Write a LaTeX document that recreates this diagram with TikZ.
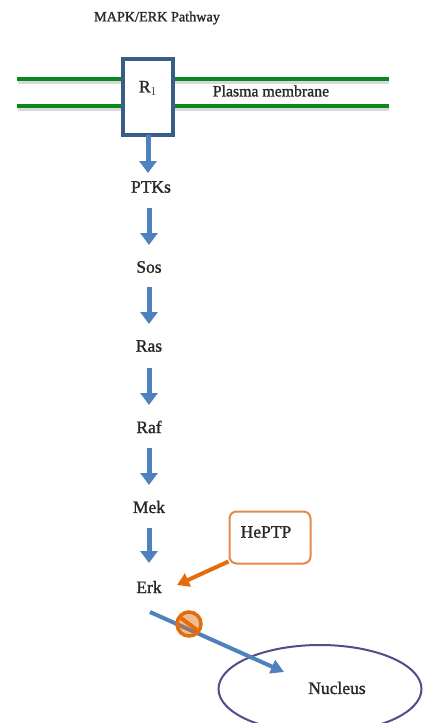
\documentclass[tikz,border=0pt]{standalone}
\usepackage{fontspec}
\setmainfont[FakeBold=1.3]{Liberation Serif}
\usetikzlibrary{arrows.meta,calc,shapes.geometric}
\definecolor{ablue}{RGB}{79,129,189}
\definecolor{bblue}{RGB}{56,93,138}
\definecolor{mgreen}{RGB}{10,135,30}
\definecolor{aorange}{RGB}{228,108,10}
\definecolor{borange}{RGB}{230,135,75}
\definecolor{npurple}{RGB}{88,72,140}
\definecolor{txt}{RGB}{40,40,40}
\tikzset{
  lbl/.style={text=txt,font=\fontsize{17.5}{20}\selectfont,inner sep=0pt},
  barrow/.style={draw=ablue,line width=5pt,-{Triangle[width=17pt,length=12pt]}},
  membrane/.style={draw=mgreen,line width=4.5pt},
  shadowline/.style={draw=black!15,line width=4pt},
}
\begin{document}
\begin{tikzpicture}[x=1pt,y=-1pt]
\path[use as bounding box,fill=white] (0,0) rectangle (424,723);
% title
\node[text=txt,font=\fontsize{14.2}{16}\selectfont,inner sep=0pt] (title) at (157,18) {MAPK/ERK Pathway};
% membrane
\draw[shadowline] (18,82) -- (389,82);
\draw[shadowline] (18,109) -- (389,109);
\draw[membrane] (17,79) -- (389,79);
\draw[membrane] (17,106) -- (389,106);
\node[draw=bblue,line width=3.5pt,fill=white,minimum width=50pt,minimum height=76pt,inner sep=0pt] (r1box) at (148,97) {};
\node[lbl] (r1) at (148,88) {R$_1$};
\node[text=txt,font=\fontsize{15.8}{18}\selectfont,inner sep=0pt] (pm) at (271,91) {Plasma membrane};
% pathway labels
\node[lbl] (ptks) at (151,187) {PTKs};
\node[lbl] (sos) at (149,267) {Sos};
\node[lbl] (ras) at (149,346) {Ras};
\node[lbl] (raf) at (149,427) {Raf};
\node[lbl] (mek) at (149,507) {Mek};
\node[lbl] (erk) at (149,587) {Erk};
% arrows
\coordinate (a0) at (148,135);
\coordinate (a1) at (148,173);
\draw[barrow] (a0) -- (a1);
\draw[barrow] ($(ptks)+(-2,21)$) -- ($(sos)+(0,-22)$);
\draw[barrow] ($(sos)+(0,20)$) -- ($(ras)+(0,-22)$);
\draw[barrow] ($(ras)+(0,22)$) -- ($(raf)+(0,-22)$);
\draw[barrow] ($(raf)+(0,21)$) -- ($(mek)+(0,-22)$);
\draw[barrow] ($(mek)+(0,21)$) -- ($(erk)+(0,-24)$);
% HePTP
\node[draw=borange,line width=2pt,rounded corners=7pt,minimum width=81pt,minimum height=52pt,inner sep=0pt] (heptp) at (270,537.5) {};
\node[lbl] (heptxt) at (266,532) {HePTP};
\coordinate (hs) at ($(heptp.south west)+(0,-3)$);
\draw[draw=aorange,line width=4pt,-{Triangle[width=14pt,length=12pt]}] (hs) -- ($(erk)+(28,-2)$);
% nucleus
\node[draw=npurple,line width=2pt,ellipse,minimum width=203pt,minimum height=88pt,inner sep=0pt] (nucleus) at (320,689) {};
\node[lbl] (nuctxt) at (337,688) {Nucleus};
\coordinate (estart) at (150,612);
\coordinate (eend) at (284,672);
\draw[draw=ablue,line width=4pt,-{Triangle[width=14pt,length=13pt]}] (estart) -- (eend);
% inhibition symbol
\node[circle,fill=aorange,fill opacity=0.45,minimum size=26pt,inner sep=0pt] (inh) at (189,624) {};
\draw[aorange,line width=3.5pt] (inh) circle (12pt);
\draw[aorange,line width=4pt] ($(inh)+(-8,-6)$) -- ($(inh)+(8,6)$);
\end{tikzpicture}
\end{document}
